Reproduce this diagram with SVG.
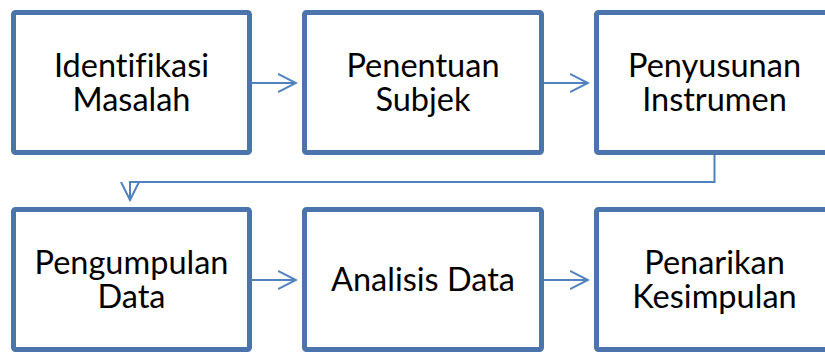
<svg xmlns="http://www.w3.org/2000/svg" width="825" height="353" viewBox="0 0 825 353">
<style>
.box{fill:#fff;stroke:#4a74ab;stroke-width:5}
.t{font-family:Lato,"Liberation Sans",sans-serif;font-size:32.5px;fill:#000;text-anchor:middle;font-variant-ligatures:none}
.c{fill:none;stroke:#5082bf;stroke-width:2}
</style>
<defs>
<marker id="ah" viewBox="0 0 20 20" refX="18" refY="10" markerWidth="20" markerHeight="20" markerUnits="userSpaceOnUse" orient="auto">
<path d="M0,1 L18,10 L0,19" fill="none" stroke="#5082bf" stroke-width="2"/>
</marker>
</defs>
<g id="connectors">
<path class="c" d="M252,83 H296" marker-end="url(#ah)"/>
<path class="c" d="M544,83 H588" marker-end="url(#ah)"/>
<path class="c" d="M714.5,155 V182 H130 V200" marker-end="url(#ah)"/>
<path class="c" d="M252,280 H296" marker-end="url(#ah)"/>
<path class="c" d="M544,280 H588" marker-end="url(#ah)"/>
</g>
<g id="n1"><rect class="box" x="13.5" y="12.5" width="236" height="140" rx="2"/>
<text class="t" x="131.5" y="77">Identifikasi</text><text class="t" x="131.5" y="111">Masalah</text></g>
<g id="n2"><rect class="box" x="304.5" y="12.5" width="237" height="140" rx="2"/>
<text class="t" x="423" y="77">Penentuan</text><text class="t" x="423" y="111">Subjek</text></g>
<g id="n3"><rect class="box" x="596.5" y="12.5" width="236" height="140" rx="2"/>
<text class="t" x="714.5" y="77">Penyusunan</text><text class="t" x="714.5" y="111">Instrumen</text></g>
<g id="n4"><rect class="box" x="13.5" y="209.5" width="236" height="140" rx="2"/>
<text class="t" x="131.5" y="274">Pengumpulan</text><text class="t" x="131.5" y="308">Data</text></g>
<g id="n5"><rect class="box" x="304.5" y="209.5" width="237" height="140" rx="2"/>
<text class="t" x="423" y="291">Analisis Data</text></g>
<g id="n6"><rect class="box" x="596.5" y="209.5" width="236" height="140" rx="2"/>
<text class="t" x="714.5" y="274">Penarikan</text><text class="t" x="714.5" y="308">Kesimpulan</text></g>
</svg>
